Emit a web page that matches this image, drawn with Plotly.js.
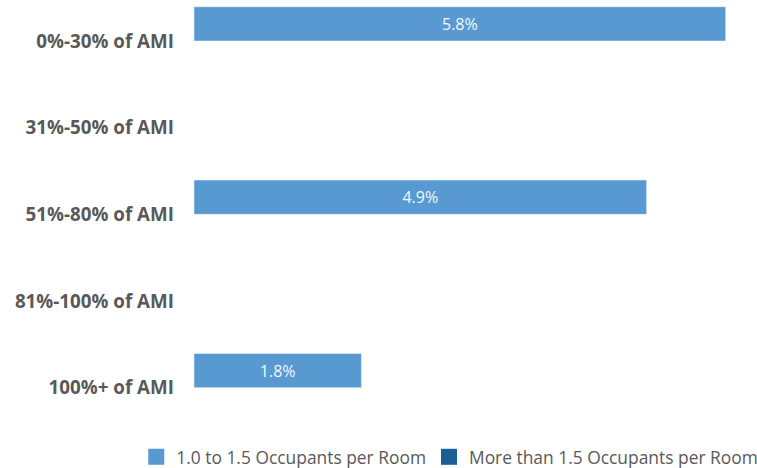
<!DOCTYPE html>
<html>
<head>
<meta charset="utf-8">
<script src="https://cdn.plot.ly/plotly-3.0.1.min.js"></script>
<style>html,body{margin:0;padding:0;background:#fff;}#chart{width:757px;height:468px;}</style>
</head>
<body>
<div id="chart"></div>
<script>
const categories = ["0%-30% of AMI", "31%-50% of AMI", "51%-80% of AMI", "81%-100% of AMI", "100%+ of AMI"];
const seriesNames = ["1.0 to 1.5 Occupants per Room", "More than 1.5 Occupants per Room"];
const series1 = [5.78, null, 4.92, null, 1.82];
const series2 = [null, null, null, null, null];
const colors = ["#5899d1", "#1c5f94"];

const fmt = v => (v === null ? "" : v.toFixed(1) + "%");

const barTraces = [series1, series2].map((vals, i) => ({
  type: "bar",
  orientation: "h",
  name: seriesNames[i],
  y: categories,
  x: vals,
  text: vals.map(fmt),
  textposition: "inside",
  insidetextanchor: "middle",
  textfont: {family: "Open Sans", size: 16, color: "#f4f8fc"},
  marker: {color: colors[i], line: {width: 1, color: "rgba(255,255,255,0.45)"}},
  showlegend: false,
  hoverinfo: "none"
}));

const legendNames = ["legend", "legend2"];
const legendTraces = seriesNames.map((n, i) => ({
  type: "scatter",
  mode: "markers",
  name: n,
  legend: legendNames[i],
  x: [null], y: [null],
  marker: {symbol: "square", size: 16, color: colors[i]},
  showlegend: true,
  hoverinfo: "none"
}));

const legendBase = {
  orientation: "h",
  xref: "container", xanchor: "left",
  yref: "container", y: 0.062, yanchor: "top",
  font: {family: "Open Sans", size: 17.4, color: "#595959"},
  bgcolor: "rgba(0,0,0,0)",
  itemclick: false, itemdoubleclick: false
};

const layout = {
  width: 757, height: 468,
  margin: {l: 194, r: 0, t: 0, b: 37},
  paper_bgcolor: "#ffffff",
  plot_bgcolor: "#ffffff",
  barmode: "group",
  bargap: 0.21,
  bargroupgap: 0,
  font: {family: "Open Sans", color: "#595959"},
  xaxis: {range: [0, 6.12], visible: false, fixedrange: true},
  yaxis: {
    type: "category",
    categoryorder: "array",
    categoryarray: categories,
    range: [4.5, -0.473],
    showgrid: false, zeroline: false, showline: false,
    ticks: "",
    ticklabelstandoff: 19,
    tickfont: {family: "Open Sans", size: 18.8, color: "#595959", weight: "bold"}
  },
  legend: Object.assign({}, legendBase, {x: 0.18}),
  legend2: Object.assign({}, legendBase, {x: 0.5667}),
  showlegend: true
};

Plotly.newPlot("chart", [...barTraces, ...legendTraces], layout, {displayModeBar: false, staticPlot: true});
</script>
</body>
</html>
